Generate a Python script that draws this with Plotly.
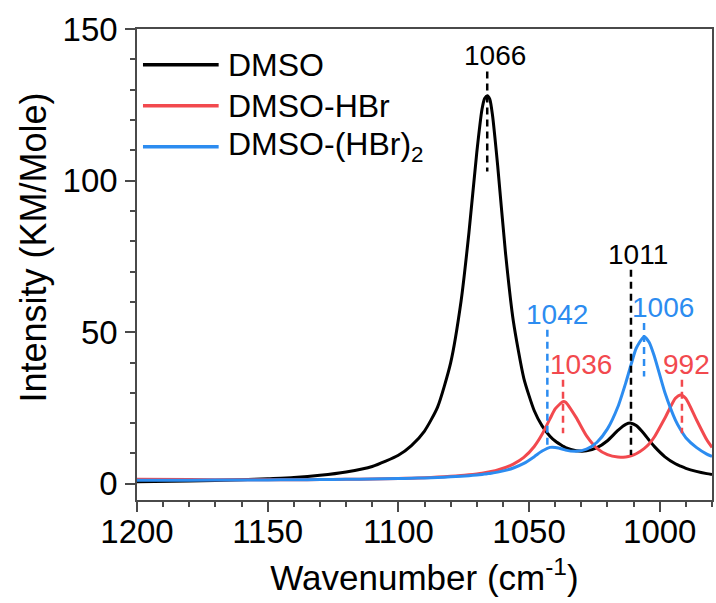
import plotly.graph_objects as go

# ---------------- data ----------------
wavenumber = [1200, 1180, 1160, 1150, 1140, 1130, 1120, 1110, 1100, 1095, 1090, 1085,
              1080, 1076, 1073, 1070, 1068, 1067, 1066, 1065, 1064, 1062, 1059, 1056,
              1052, 1048, 1045, 1042, 1040, 1037, 1036, 1032, 1028, 1024, 1020, 1016,
              1013, 1011, 1009, 1006, 1004, 1002, 998, 994, 992, 990, 986, 982, 980]

dmso = [0.7, 0.9, 1.3, 1.7, 2.1, 2.8, 3.9, 5.7, 9.4, 12.6, 17.4, 25.3,
        39.9, 60.3, 82.8, 109.2, 123.5, 127.1, 128.0, 126.8, 121.7, 104.9, 76.1, 53.6,
        34.8, 24.1, 19.1, 15.7, 14.1, 12.4, 11.9, 10.9, 10.85, 11.9, 14.2, 17.6,
        19.6, 20.0, 19.2, 16.5, 14.3, 12.25, 8.9, 6.6, 5.8, 5.1, 4.1, 3.35, 3.06]

dmso_hbr = [1.5, 1.4, 1.3, 1.3, 1.32, 1.38, 1.46, 1.58, 1.75, 1.86, 2.0, 2.2,
            2.45, 2.7, 2.96, 3.26, 3.5, 3.65, 3.8, 3.96, 4.15, 4.58, 5.38, 6.48,
            8.69, 12.3, 16.3, 21.4, 24.7, 27.1, 26.9, 21.9, 15.8, 11.7, 9.6, 8.8,
            8.85, 9.2, 9.9, 11.6, 13.2, 15.5, 21.7, 28.2, 29.3, 28.1, 21.2, 14.5, 12.0]

dmso_hbr2 = [1.15, 1.19, 1.25, 1.28, 1.33, 1.39, 1.47, 1.58, 1.72, 1.82, 1.94, 2.09,
             2.29, 2.49, 2.67, 2.9, 3.08, 3.19, 3.3, 3.41, 3.55, 3.85, 4.42, 5.2,
             6.72, 8.95, 10.8, 12.0, 12.0, 11.4, 11.1, 10.7, 11.4, 13.7, 18.1, 25.4,
             33.3, 39.2, 44.7, 48.5, 46.6, 41.9, 30.0, 21.0, 17.8, 15.2, 12.0, 9.8, 9.0]

# peak markers: position, dashed-line top / bottom (intensity), label text
dmso_peak_pos = [1066, 1011]
dmso_peak_top = [136, 70.6]
dmso_peak_bottom = [103, 9.5]
dmso_peak_labels = ["1066", "1011"]

hbr_peak_pos = [1037, 991.5]
hbr_peak_top = [34.3, 34.3]
hbr_peak_bottom = [16.7, 16.7]
hbr_peak_labels = ["1036", "992"]

hbr2_peak_pos = [1043, 1006]
hbr2_peak_top = [50.8, 53.0]
hbr2_peak_bottom = [11.8, 35.4]
hbr2_peak_labels = ["1042", "1006"]

series_names = ["DMSO", "DMSO-HBr", "DMSO-(HBr)<sub>2</sub>"]
x_ticks = [1200, 1150, 1100, 1050, 1000]
y_ticks = [0, 50, 100, 150]

# ---------------- styling ----------------
FONT = "Liberation Sans, Arial, sans-serif"
BLACK = "#000000"
RED = "#F2494E"
BLUE = "#2C8CF0"
AXIS = "#4a4a4a"

series = [
    (series_names[0], dmso, BLACK, dmso_peak_pos, dmso_peak_top, dmso_peak_bottom, dmso_peak_labels, [8, 7]),
    (series_names[1], dmso_hbr, RED, hbr_peak_pos, hbr_peak_top, hbr_peak_bottom, hbr_peak_labels, [18, 5]),
    (series_names[2], dmso_hbr2, BLUE, hbr2_peak_pos, hbr2_peak_top, hbr2_peak_bottom, hbr2_peak_labels, [10, 19]),
]

fig = go.Figure()

for name, ys, color, *_ in series:
    fig.add_trace(go.Scatter(
        x=wavenumber, y=ys, mode="lines", name=name,
        line=dict(color=color, width=3, shape="spline", smoothing=0.6),
        showlegend=False,
    ))

annotations = []
for name, ys, color, pos, top, bot, labels, shifts in series:
    for p, t, b, lab, sh in zip(pos, top, bot, labels, shifts):
        fig.add_trace(go.Scatter(
            x=[p, p], y=[t, b], mode="lines", showlegend=False, hoverinfo="skip",
            line=dict(color=color, width=2.5, dash="7px,5px"),
        ))
        annotations.append(dict(
            x=p, y=t, xref="x", yref="y", text=lab, showarrow=False,
            xanchor="center", yanchor="bottom", xshift=sh, yshift=-2,
            font=dict(family=FONT, size=28, color=color),
        ))

# manual legend (long line samples as in the reference)
legend_y = [0.924, 0.837, 0.750]
shapes = []
for (name, ys, color, *_), ly in zip(series, legend_y):
    shapes.append(dict(type="line", xref="paper", yref="paper",
                       x0=0.0104, x1=0.142, y0=ly, y1=ly,
                       line=dict(color=color, width=3.5)))
    annotations.append(dict(
        x=0.155, y=ly, xref="paper", yref="paper", text=name, showarrow=False,
        xanchor="left", yanchor="middle",
        font=dict(family=FONT, size=32, color=BLACK),
    ))

# y-axis title placed as in the reference
annotations.append(dict(
    x=-0.18, y=0.535, xref="paper", yref="paper", text="Intensity (KM/Mole)",
    showarrow=False, textangle=-90, xanchor="center", yanchor="middle",
    font=dict(family=FONT, size=36, color=BLACK),
))

axis_common = dict(
    showline=True, linecolor=AXIS, linewidth=1.5, mirror=True,
    showgrid=False, zeroline=False,
    ticks="outside", ticklen=10, tickwidth=1.5, tickcolor=AXIS,
    tickfont=dict(family=FONT, size=33, color=BLACK),
    minor=dict(ticks="outside", ticklen=5, tickwidth=1.5, tickcolor=AXIS, dtick=10, tick0=0),
)

fig.update_layout(
    width=716, height=603,
    margin=dict(l=137, r=2, t=29, b=103),
    paper_bgcolor="white", plot_bgcolor="white",
    font=dict(family=FONT, color=BLACK),
    xaxis=dict(range=[1200, 980], tickvals=x_ticks, ticklabelstandoff=-8,
               title=dict(text="Wavenumber (cm<sup>-1</sup>)", standoff=16,
                          font=dict(family=FONT, size=35, color=BLACK)),
               **axis_common),
    yaxis=dict(range=[-5.35, 150], tickvals=y_ticks, ticklabelstandoff=1,
               **axis_common),
    shapes=shapes,
    annotations=annotations,
)

fig.write_html("out.html")
